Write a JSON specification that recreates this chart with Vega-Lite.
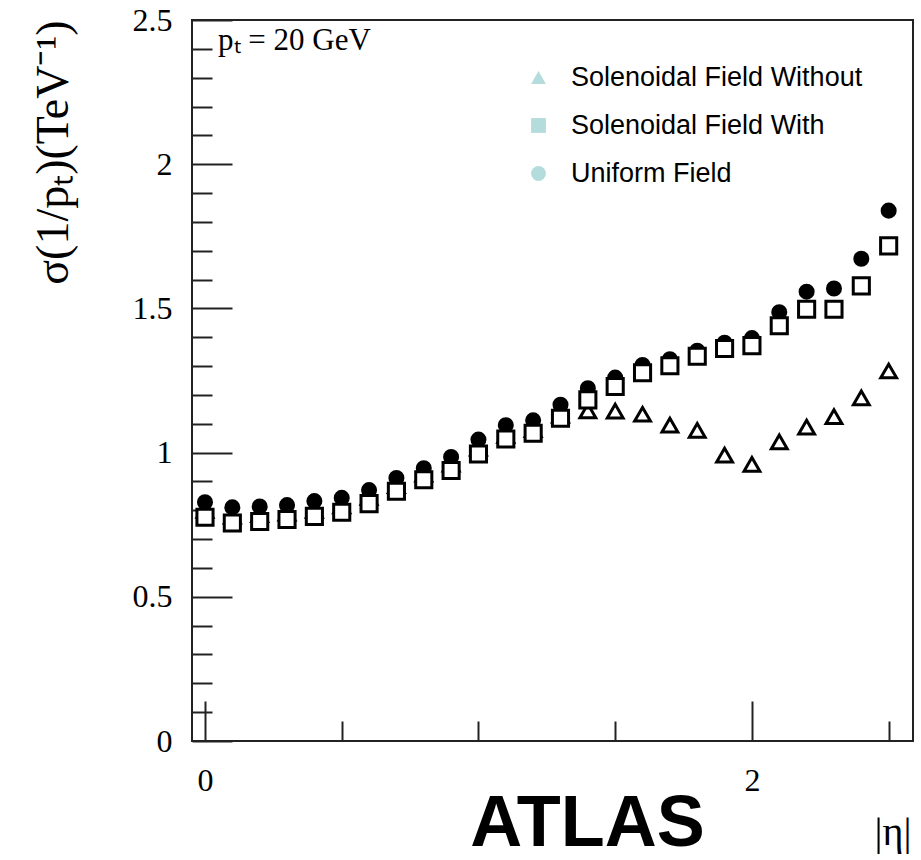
{
  "$schema": "https://vega.github.io/schema/vega-lite/v6.json",
  "width": 721,
  "height": 721,
  "autosize": {"type": "none"},
  "padding": {"left": 192, "top": 20, "right": 8, "bottom": 119},
  "background": "white",
  "title": {
    "text": "ATLAS",
    "orient": "bottom",
    "anchor": "middle",
    "font": "Liberation Sans",
    "fontWeight": "bold",
    "fontSize": 72,
    "color": "black",
    "dx": 35,
    "offset": 9,
    "baseline": "bottom"
  },
  "config": {
    "view": {"stroke": "#222", "strokeWidth": 2},
    "axis": {
      "grid": false,
      "domain": false,
      "labelFont": "Liberation Serif",
      "labelFontSize": 32,
      "labelColor": "black",
      "tickColor": "#222",
      "tickWidth": 2
    }
  },
  "data": {
    "values": [
      {"eta": 0.0, "sigma": 0.80, "field": "Solenoidal Field Without"},
      {"eta": 0.1, "sigma": 0.78, "field": "Solenoidal Field Without"},
      {"eta": 0.2, "sigma": 0.785, "field": "Solenoidal Field Without"},
      {"eta": 0.3, "sigma": 0.79, "field": "Solenoidal Field Without"},
      {"eta": 0.4, "sigma": 0.80, "field": "Solenoidal Field Without"},
      {"eta": 0.5, "sigma": 0.815, "field": "Solenoidal Field Without"},
      {"eta": 0.6, "sigma": 0.845, "field": "Solenoidal Field Without"},
      {"eta": 0.7, "sigma": 0.885, "field": "Solenoidal Field Without"},
      {"eta": 0.8, "sigma": 0.925, "field": "Solenoidal Field Without"},
      {"eta": 0.9, "sigma": 0.96, "field": "Solenoidal Field Without"},
      {"eta": 1.0, "sigma": 1.015, "field": "Solenoidal Field Without"},
      {"eta": 1.1, "sigma": 1.06, "field": "Solenoidal Field Without"},
      {"eta": 1.2, "sigma": 1.08, "field": "Solenoidal Field Without"},
      {"eta": 1.3, "sigma": 1.13, "field": "Solenoidal Field Without"},
      {"eta": 1.4, "sigma": 1.145, "field": "Solenoidal Field Without"},
      {"eta": 1.5, "sigma": 1.144, "field": "Solenoidal Field Without"},
      {"eta": 1.6, "sigma": 1.133, "field": "Solenoidal Field Without"},
      {"eta": 1.7, "sigma": 1.095, "field": "Solenoidal Field Without"},
      {"eta": 1.8, "sigma": 1.077, "field": "Solenoidal Field Without"},
      {"eta": 1.9, "sigma": 0.991, "field": "Solenoidal Field Without"},
      {"eta": 2.0, "sigma": 0.959, "field": "Solenoidal Field Without"},
      {"eta": 2.1, "sigma": 1.037, "field": "Solenoidal Field Without"},
      {"eta": 2.2, "sigma": 1.088, "field": "Solenoidal Field Without"},
      {"eta": 2.3, "sigma": 1.125, "field": "Solenoidal Field Without"},
      {"eta": 2.4, "sigma": 1.19, "field": "Solenoidal Field Without"},
      {"eta": 2.5, "sigma": 1.283, "field": "Solenoidal Field Without"},
      {"eta": 0.0, "sigma": 0.828, "field": "Uniform Field"},
      {"eta": 0.1, "sigma": 0.81, "field": "Uniform Field"},
      {"eta": 0.2, "sigma": 0.813, "field": "Uniform Field"},
      {"eta": 0.3, "sigma": 0.818, "field": "Uniform Field"},
      {"eta": 0.4, "sigma": 0.832, "field": "Uniform Field"},
      {"eta": 0.5, "sigma": 0.843, "field": "Uniform Field"},
      {"eta": 0.6, "sigma": 0.87, "field": "Uniform Field"},
      {"eta": 0.7, "sigma": 0.912, "field": "Uniform Field"},
      {"eta": 0.8, "sigma": 0.946, "field": "Uniform Field"},
      {"eta": 0.9, "sigma": 0.985, "field": "Uniform Field"},
      {"eta": 1.0, "sigma": 1.045, "field": "Uniform Field"},
      {"eta": 1.1, "sigma": 1.095, "field": "Uniform Field"},
      {"eta": 1.2, "sigma": 1.112, "field": "Uniform Field"},
      {"eta": 1.3, "sigma": 1.166, "field": "Uniform Field"},
      {"eta": 1.4, "sigma": 1.223, "field": "Uniform Field"},
      {"eta": 1.5, "sigma": 1.26, "field": "Uniform Field"},
      {"eta": 1.6, "sigma": 1.304, "field": "Uniform Field"},
      {"eta": 1.7, "sigma": 1.324, "field": "Uniform Field"},
      {"eta": 1.8, "sigma": 1.353, "field": "Uniform Field"},
      {"eta": 1.9, "sigma": 1.381, "field": "Uniform Field"},
      {"eta": 2.0, "sigma": 1.397, "field": "Uniform Field"},
      {"eta": 2.1, "sigma": 1.487, "field": "Uniform Field"},
      {"eta": 2.2, "sigma": 1.558, "field": "Uniform Field"},
      {"eta": 2.3, "sigma": 1.569, "field": "Uniform Field"},
      {"eta": 2.4, "sigma": 1.672, "field": "Uniform Field"},
      {"eta": 2.5, "sigma": 1.839, "field": "Uniform Field"},
      {"eta": 0.0, "sigma": 0.776, "field": "Solenoidal Field With"},
      {"eta": 0.1, "sigma": 0.756, "field": "Solenoidal Field With"},
      {"eta": 0.2, "sigma": 0.761, "field": "Solenoidal Field With"},
      {"eta": 0.3, "sigma": 0.768, "field": "Solenoidal Field With"},
      {"eta": 0.4, "sigma": 0.779, "field": "Solenoidal Field With"},
      {"eta": 0.5, "sigma": 0.793, "field": "Solenoidal Field With"},
      {"eta": 0.6, "sigma": 0.823, "field": "Solenoidal Field With"},
      {"eta": 0.7, "sigma": 0.866, "field": "Solenoidal Field With"},
      {"eta": 0.8, "sigma": 0.906, "field": "Solenoidal Field With"},
      {"eta": 0.9, "sigma": 0.938, "field": "Solenoidal Field With"},
      {"eta": 1.0, "sigma": 0.995, "field": "Solenoidal Field With"},
      {"eta": 1.1, "sigma": 1.047, "field": "Solenoidal Field With"},
      {"eta": 1.2, "sigma": 1.067, "field": "Solenoidal Field With"},
      {"eta": 1.3, "sigma": 1.119, "field": "Solenoidal Field With"},
      {"eta": 1.4, "sigma": 1.183, "field": "Solenoidal Field With"},
      {"eta": 1.5, "sigma": 1.229, "field": "Solenoidal Field With"},
      {"eta": 1.6, "sigma": 1.277, "field": "Solenoidal Field With"},
      {"eta": 1.7, "sigma": 1.301, "field": "Solenoidal Field With"},
      {"eta": 1.8, "sigma": 1.334, "field": "Solenoidal Field With"},
      {"eta": 1.9, "sigma": 1.361, "field": "Solenoidal Field With"},
      {"eta": 2.0, "sigma": 1.371, "field": "Solenoidal Field With"},
      {"eta": 2.1, "sigma": 1.44, "field": "Solenoidal Field With"},
      {"eta": 2.2, "sigma": 1.497, "field": "Solenoidal Field With"},
      {"eta": 2.3, "sigma": 1.497, "field": "Solenoidal Field With"},
      {"eta": 2.4, "sigma": 1.578, "field": "Solenoidal Field With"},
      {"eta": 2.5, "sigma": 1.717, "field": "Solenoidal Field With"}
    ]
  },
  "layer": [
    {
      "mark": {"type": "point", "filled": true, "fill": "#b5dcdc", "stroke": "black", "strokeWidth": 1.5, "size": 90, "opacity": 1},
      "encoding": {
        "x": {
          "field": "eta", "type": "quantitative",
          "scale": {"domain": [-0.0475, 2.589], "nice": false, "zero": false},
          "axis": null
        },
        "y": {
          "field": "sigma", "type": "quantitative",
          "scale": {"domain": [0, 2.5], "nice": false, "zero": false},
          "axis": null
        },
        "shape": {
          "field": "field", "type": "nominal",
          "scale": {"domain": ["Solenoidal Field Without", "Solenoidal Field With", "Uniform Field"], "range": ["triangle-up", "square", "circle"]},
          "legend": {
            "title": null, "orient": "none", "legendX": 333, "legendY": 44,
            "labelFont": "Liberation Sans", "labelFontSize": 27, "labelColor": "black", "labelLimit": 400,
            "symbolSize": 220, "labelOffset": 19, "rowPadding": 20,
            "symbolStrokeColor": "black", "symbolStrokeWidth": 1.5, "symbolOpacity": 1
          }
        }
      }
    },
    {
      "transform": [{"filter": "datum.field === 'Solenoidal Field Without'"}],
      "mark": {"type": "point", "filled": true, "fill": "white", "stroke": "black", "strokeWidth": 3, "size": 250, "opacity": 1},
      "encoding": {
        "x": {
          "field": "eta", "type": "quantitative",
          "axis": {
            "orient": "bottom", "values": [0, 2], "ticks": false, "labelPadding": 24,
            "title": "|η|", "titleFont": "Liberation Serif", "titleFontSize": 40,
            "titleFontWeight": "normal", "titleColor": "black",
            "titleAlign": "right", "titleBaseline": "alphabetic", "titleX": 719, "titleY": 103
          }
        },
        "y": {
          "field": "sigma", "type": "quantitative",
          "axis": {
            "orient": "left", "values": [0, 0.5, 1, 1.5, 2, 2.5], "format": "~g", "ticks": false, "labelPadding": 20,
            "title": "σ(1/pₜ)(TeV⁻¹)", "titleFont": "Liberation Serif", "titleFontSize": 46,
            "titleFontWeight": "normal", "titleColor": "black", "titleAngle": -90,
            "titleAlign": "right", "titleBaseline": "alphabetic", "titleX": -125, "titleY": 0
          }
        },
        "shape": {"field": "field", "type": "nominal", "legend": null}
      }
    },
    {
      "transform": [{"filter": "datum.field === 'Uniform Field'"}],
      "mark": {"type": "point", "filled": true, "fill": "black", "stroke": "black", "strokeWidth": 3, "size": 170, "opacity": 1},
      "encoding": {
        "x": {
          "field": "eta", "type": "quantitative",
          "axis": {"orient": "bottom", "values": [0, 2], "labels": false, "tickSize": -40, "title": null}
        },
        "y": {
          "field": "sigma", "type": "quantitative",
          "axis": {"orient": "left", "values": [0, 0.5, 1, 1.5, 2, 2.5], "labels": false, "tickSize": -40, "title": null}
        },
        "shape": {"field": "field", "type": "nominal", "legend": null}
      }
    },
    {
      "transform": [{"filter": "datum.field === 'Solenoidal Field With'"}],
      "mark": {"type": "point", "filled": true, "fill": "white", "stroke": "black", "strokeWidth": 3, "size": 260, "opacity": 1},
      "encoding": {
        "x": {
          "field": "eta", "type": "quantitative",
          "axis": {"orient": "bottom", "values": [0.5, 1, 1.5, 2.5], "labels": false, "tickSize": -20, "title": null}
        },
        "y": {
          "field": "sigma", "type": "quantitative",
          "axis": {"orient": "left", "values": [0.1, 0.2, 0.3, 0.4, 0.6, 0.7, 0.8, 0.9, 1.1, 1.2, 1.3, 1.4, 1.6, 1.7, 1.8, 1.9, 2.1, 2.2, 2.3, 2.4], "labels": false, "tickSize": -20, "title": null}
        },
        "shape": {"field": "field", "type": "nominal", "legend": null}
      }
    },
    {
      "data": {"values": [{"eta": 0.048, "sigma": 2.396, "label": "pₜ = 20 GeV"}]},
      "mark": {"type": "text", "align": "left", "baseline": "alphabetic", "font": "Liberation Serif", "fontSize": 31, "color": "black"},
      "encoding": {
        "x": {"field": "eta", "type": "quantitative", "axis": null},
        "y": {"field": "sigma", "type": "quantitative", "axis": null},
        "text": {"field": "label"}
      }
    }
  ],
  "resolve": {"axis": {"x": "independent", "y": "independent"}}
}
